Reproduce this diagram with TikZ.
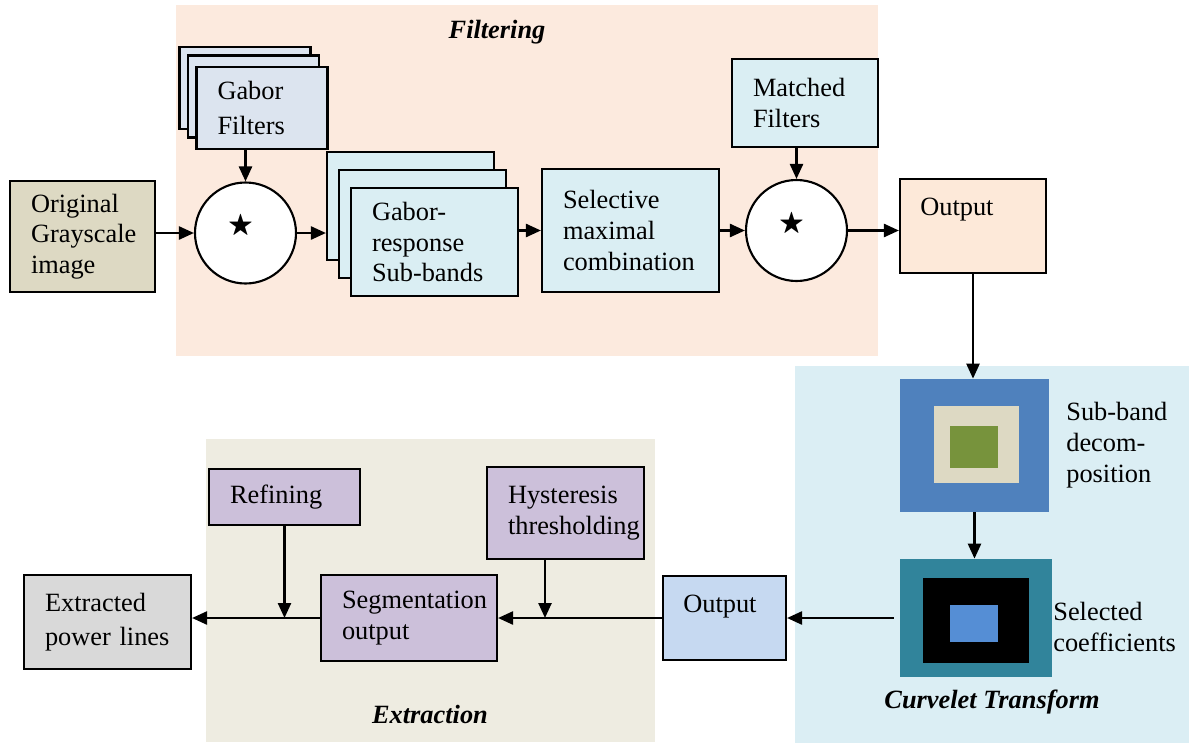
\documentclass[tikz,border=0pt]{standalone}
\usepackage{amssymb}
\usepackage{fontspec}
\setmainfont{Liberation Serif}
\usetikzlibrary{arrows.meta,calc}
\definecolor{cFilt}{HTML}{FCEADE}
\definecolor{cCurv}{HTML}{DBEEF4}
\definecolor{cExtr}{HTML}{EEECE1}
\definecolor{cGabor}{HTML}{DCE4EF}
\definecolor{cResp}{HTML}{DAEEF3}
\definecolor{cOrig}{HTML}{DDD9C3}
\definecolor{cOut}{HTML}{FDE9D9}
\definecolor{cOutB}{HTML}{C6D9F1}
\definecolor{cPurp}{HTML}{CCC0DA}
\definecolor{cGray}{HTML}{D9D9D9}
\definecolor{cSbOut}{HTML}{4F81BD}
\definecolor{cSbIn}{HTML}{77933C}
\definecolor{cScOut}{HTML}{31849B}
\definecolor{cScIn}{HTML}{558ED5}
\hyphenpenalty=10000
\exhyphenpenalty=10000

\begin{document}
\begin{tikzpicture}[font=\fontsize{15}{17.5}\selectfont,
      blk/.style={draw=black,line width=1.2pt,align=left,inner xsep=0.42cm},
      conv/.style={draw=black,line width=1.2pt,fill=white,circle,minimum size=2.02cm,inner sep=0pt,
        label={[xshift=-1mm,yshift=1.4mm]center:$\bigstar$}},
      sq/.style={fill=#1,inner sep=0pt},
      outlbl/.style={label={[anchor=north west,inner sep=0pt,xshift=0.42cm,yshift=-0.40cm]north west:Output}},
      arr/.style={-{Triangle[length=0.3cm,width=0.26cm]},line width=1.4pt},
      ttl/.style={font=\fontsize{15}{17.5}\selectfont\bfseries\itshape}]
    \useasboundingbox (0,0) rectangle (23.78,-14.86);
    % panels
    \fill[cFilt] (3.52,-0.10) rectangle (17.56,-7.12);
    \fill[cCurv] (15.90,-7.32) rectangle (23.78,-14.86);
    \fill[cExtr] (4.12,-8.78) rectangle (13.10,-14.84);
    \node[ttl] (tFilt) at (9.94,-0.64) {Filtering};
    \node[ttl] (tCurv) at (19.84,-14.04) {Curvelet Transform};
    \node[ttl] (tExtr) at (8.60,-14.28) {Extraction};

    % filtering stage
    \node[blk,fill=cOrig,text width=2.06cm,minimum width=2.90cm,minimum height=2.22cm]
      (orig) at (1.65,-4.73) {Original\\Grayscale\\image};
    \foreach \k in {2,1}
      \node[blk,fill=cGabor,minimum width=2.62cm,minimum height=1.64cm]
        (gab\k) at ({5.24-0.17*\k},{-2.10+0.17*\k}) {};
    \node[blk,fill=cGabor,text width=1.78cm,minimum width=2.62cm,minimum height=1.64cm,
      font=\fontsize{15}{20}\selectfont] (gab) at (5.24,-2.16) {Gabor\\Filters};
    \node[conv] (c1) at (4.91,-4.66) {};
    \foreach \k in {2,1}
      \node[blk,fill=cResp,minimum width=3.34cm,minimum height=2.16cm]
        (resp\k) at ({8.69-0.24*\k},{-4.84+0.36*\k}) {};
    \node[blk,fill=cResp,text width=2.50cm,minimum width=3.34cm,minimum height=2.16cm]
      (resp) at (8.69,-4.84) {Gabor-\\response\\Sub-bands};
    \node[blk,fill=cResp,text width=2.70cm,minimum width=3.54cm,minimum height=2.46cm]
      (sel) at (12.61,-4.61) {Selective\\maximal\\combination};
    \node[blk,fill=cResp,text width=2.08cm,minimum width=2.92cm,minimum height=1.76cm]
      (mf) at (16.10,-2.06) {Matched\\Filters};
    \node[conv] (c2) at (15.93,-4.61) {};
    \node[blk,fill=cOut,outlbl,minimum width=2.92cm,minimum height=1.88cm] (out1) at (19.46,-4.52) {};

    % curvelet stage
    \node[sq=cSbOut,minimum width=2.98cm,minimum height=2.66cm] (sb) at (19.49,-8.91) {};
    \node[sq=cOrig,minimum width=1.70cm,minimum height=1.54cm] (sbm) at (19.53,-8.89) {};
    \node[sq=cSbIn,minimum width=0.96cm,minimum height=0.84cm] (sbi) at (19.48,-8.94) {};
    \node[anchor=west,align=left,inner sep=0pt] (sbt) at (21.32,-8.90) {Sub-band\\decom-\\position};
    \node[sq=cScOut,minimum width=3.04cm,minimum height=2.36cm] (sc) at (19.52,-12.36) {};
    \node[sq=black,minimum width=2.12cm,minimum height=1.70cm] (scm) at (19.52,-12.41) {};
    \node[sq=cScIn,minimum width=0.96cm,minimum height=0.74cm] (sci) at (19.48,-12.47) {};
    \node[anchor=west,align=left,inner sep=0pt] (sct) at (21.06,-12.54) {Selected\\coefficients};

    % extraction stage
    \node[blk,fill=cOutB,outlbl,minimum width=2.46cm,minimum height=1.68cm] (out2) at (14.49,-12.36) {};
    \node[blk,fill=cPurp,text width=2.68cm,minimum width=3.52cm,minimum height=1.72cm]
      (seg) at (8.18,-12.36) {Segmentation\\output};
    \node[blk,fill=cPurp,text width=2.30cm,minimum width=3.14cm,minimum height=1.84cm]
      (hyst) at (11.31,-10.26) {Hysteresis\\thresholding};
    \node[blk,fill=cPurp,text width=2.18cm,minimum width=3.02cm,minimum height=1.12cm]
      (ref) at (5.69,-9.94) {Refining};
    \node[blk,fill=cGray,text width=2.50cm,minimum width=3.34cm,minimum height=1.88cm,
      font=\fontsize{15}{19}\selectfont] (ext) at (2.15,-12.44) {Extracted\\power~lines};

    % connectors
    \draw[arr] (orig.east |- c1.west) -- (c1.west);
    \draw[arr] (gab.south -| c1.north) -- (c1.north);
    \draw[arr] (c1.east) -- (c1.east -| resp2.west);
    \draw[arr] (resp.east |- sel.west) -- (sel.west);
    \draw[arr] (sel.east |- c2.west) -- (c2.west);
    \draw[arr] (mf.south -| c2.north) -- (c2.north);
    \draw[arr] (c2.east) -- (c2.east -| out1.west);
    \draw[arr] (out1.south) -- (out1.south |- sb.north);
    \draw[arr] (sb.south) -- (sb.south |- sc.north);
    \draw[arr] ([xshift=-0.12cm]sc.west) -- (sc.west -| out2.east);
    \draw[arr] (out2.west) -- (seg.east);
    \draw[arr] ([xshift=-0.41cm]hyst.south) coordinate (hy) -- (hy |- seg.east);
    \draw[arr] (ref.south) -- (ref.south |- seg.west);
    \draw[arr] (seg.west) -- (seg.west -| ext.east);
  \end{tikzpicture}
\end{document}
